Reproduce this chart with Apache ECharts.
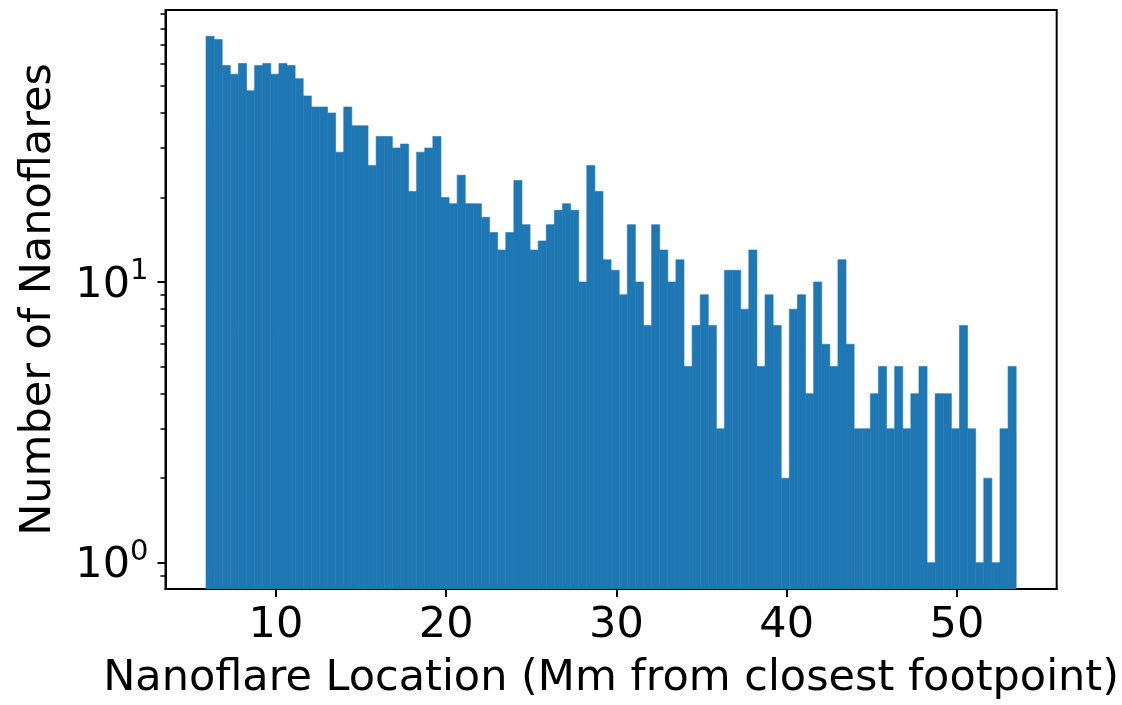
<!DOCTYPE html>
<html>
<head>
<meta charset="utf-8">
<script src="https://cdn.jsdelivr.net/npm/echarts@6/dist/echarts.min.js"></script>
<style>
  html, body { margin: 0; padding: 0; background: #ffffff; }
  #chart { width: 1122px; height: 705px; }
</style>
</head>
<body>
<div id="chart"></div>
<script>
// Histogram of nanoflare locations: 100 equal-width bins between binStart and binEnd (Mm)
const binStart = 5.89;
const binEnd = 53.48;
const counts = [
  75, 73, 59, 55, 60, 48, 59, 60, 55, 60,
  59, 53, 46, 42, 42, 40, 29, 42, 36, 36,
  26, 33, 33, 30, 31, 21, 29, 30, 33, 20,
  19, 24, 19, 19, 17, 15, 13, 15, 23, 16,
  13, 14, 16, 18, 19, 18, 10, 26, 21, 12,
  11,  9, 16, 10,  7, 16, 13, 10, 12,  5,
   7,  9,  7,  3, 11, 11,  8, 13,  5,  9,
   7,  2,  8,  9,  4, 10,  6,  5, 12,  6,
   3,  3,  4,  5,  3,  5,  3,  4,  5,  1,
   4,  4,  3,  7,  3,  1,  2,  1,  3,  5
];
const xTickValues = [10, 20, 30, 40, 50];
const yMajorTicks = [1, 10];
const yMinorTicks = [0.9, 2, 3, 4, 5, 6, 7, 8, 9, 20, 30, 40, 50, 60, 70, 80, 90];
const xAxisTitle = 'Nanoflare Location (Mm from closest footpoint)';
const yAxisTitle = 'Number of Nanoflares';

const BAR_COLOR = '#1f77b4';
const FONT = 'DejaVu Sans';

// bin edges
const nBins = counts.length;
const binWidth = (binEnd - binStart) / nBins;
const histData = counts.map((c, i) => [binStart + i * binWidth, binStart + (i + 1) * binWidth, c]);

// 5% padding on both axes (log-space for y)
const xPad = 0.05 * (binEnd - binStart);
const xMin = binStart - xPad;
const xMax = binEnd + xPad;
const logMax = Math.log10(Math.max(...counts));
const yMin = Math.pow(10, -0.05 * logMax);
const yMax = Math.pow(10, 1.05 * logMax);

const chart = echarts.init(document.getElementById('chart'), null, { renderer: 'canvas' });

chart.setOption({
  animation: false,
  backgroundColor: '#ffffff',
  grid: {
    left: 165.5, right: 62, top: 10, bottom: 113,
    show: true, borderColor: '#000', borderWidth: 2, backgroundColor: 'transparent'
  },
  xAxis: {
    type: 'value',
    min: xMin, max: xMax,
    name: xAxisTitle,
    nameLocation: 'middle',
    nameGap: 68,
    nameTextStyle: { fontFamily: FONT, fontSize: 43, color: '#000' },
    axisLine: { show: true, lineStyle: { color: '#000', width: 2 } },
    axisTick: { show: true, customValues: xTickValues, length: 8, lineStyle: { color: '#000', width: 2 } },
    axisLabel: { customValues: xTickValues, margin: 15, fontFamily: FONT, fontSize: 43, color: '#000' },
    splitLine: { show: false }
  },
  yAxis: [
    {
      type: 'log',
      logBase: 10,
      min: yMin, max: yMax,
      name: yAxisTitle,
      nameLocation: 'middle',
      nameRotate: 90,
      nameGap: 105,
      nameTextStyle: { fontFamily: FONT, fontSize: 43, color: '#000' },
      axisLine: { show: true, lineStyle: { color: '#000', width: 2 } },
      axisTick: { show: true, customValues: yMajorTicks, length: 8, lineStyle: { color: '#000', width: 2 } },
      axisLabel: {
        customValues: yMajorTicks,
        margin: 17,
        formatter: v => '{b|10}{s|' + Math.round(Math.log10(v)) + '}',
        rich: {
          b: { fontFamily: FONT, fontSize: 43, color: '#000', lineHeight: 50, verticalAlign: 'bottom' },
          s: { fontFamily: FONT, fontSize: 29, color: '#000', verticalAlign: 'top' }
        }
      },
      splitLine: { show: false }
    },
    {
      type: 'log',
      logBase: 10,
      min: yMin, max: yMax,
      position: 'left',
      axisLine: { show: false },
      axisTick: { show: true, customValues: yMinorTicks, length: 5, lineStyle: { color: '#000', width: 1.5 } },
      axisLabel: { show: false },
      splitLine: { show: false }
    }
  ],
  series: [{
    type: 'custom',
    xAxisIndex: 0,
    yAxisIndex: 0,
    clip: true,
    encode: { x: [0, 1], y: 2 },
    data: histData,
    renderItem: (params, api) => {
      const left = api.coord([api.value(0), api.value(2)]);
      const right = api.coord([api.value(1), api.value(2)]);
      const bottom = params.coordSys.y + params.coordSys.height;
      return {
        type: 'rect',
        shape: { x: left[0], y: left[1], width: right[0] - left[0], height: bottom - left[1] },
        style: { fill: BAR_COLOR, stroke: BAR_COLOR, lineWidth: 0.6 }
      };
    }
  }]
});
</script>
</body>
</html>
